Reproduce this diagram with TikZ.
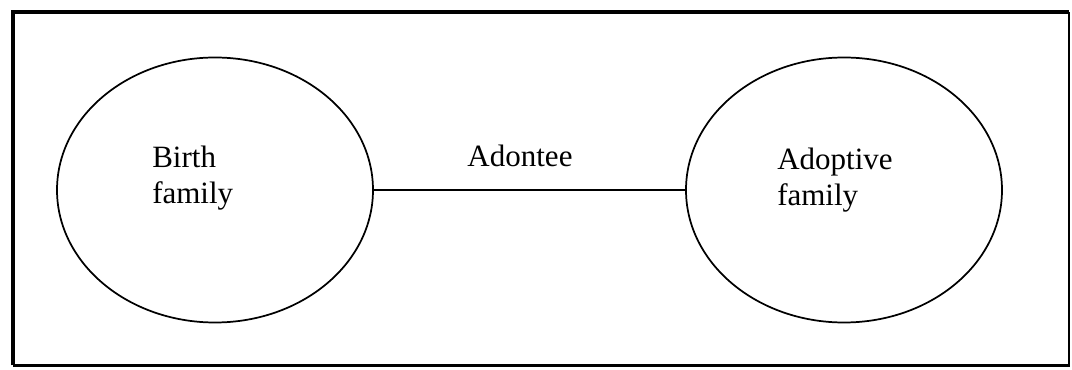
\documentclass[tikz,border=0pt]{standalone}
\usepackage{fontspec}
\setmainfont{Liberation Serif}
\usetikzlibrary{shapes.geometric}
\begin{document}
\begin{tikzpicture}[x=0.75pt,y=-0.75pt,
  family/.style={ellipse,draw,line width=1.3pt,minimum width=237pt,minimum height=198.75pt,inner sep=0pt},
  lbl/.style={inner sep=0pt,align=left,font=\fontsize{23.25pt}{27pt}\selectfont},
  link/.style={line width=1.3pt}]
\useasboundingbox (0,0) rectangle (1072,370);
% frame
\draw[line width=3pt] (12.5,365.5) -- (12.5,12.5) -- (1069,12.5);
\draw[line width=2pt] (1069,12.5) -- (1069,365.5) -- (12.5,365.5);
\node[family] (birth) at (215,190) {};
\node[family] (adopt) at (844,190) {};
\draw[link] (birth.east) -- (adopt.west);
\node[lbl,anchor=base west] (tb) at (152,204) {Birth\\family};
\node[lbl,anchor=base west] (ta) at (777,206) {Adoptive\\family};
\node[lbl,anchor=base] (te) at (520,167) {Adontee};
\end{tikzpicture}
\end{document}
